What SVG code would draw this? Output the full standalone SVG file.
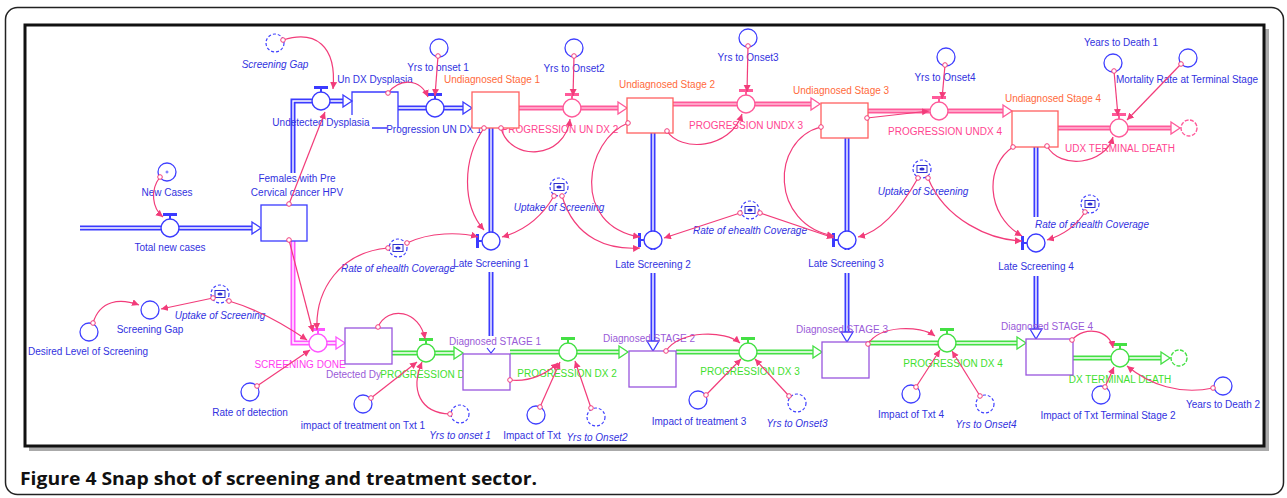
<svg xmlns="http://www.w3.org/2000/svg" width="1287" height="498" viewBox="0 0 1287 498">
<defs>
<style>
.t{font-family:"Liberation Sans",Arial,sans-serif;font-size:10px;text-anchor:middle}
.tb{fill:#3232e0}.ti{font-style:italic}.tr{fill:#ff6a3c}.tp{fill:#ff4590}.tm{fill:#ff3cf0}.tv{fill:#9a5ad8}.tg{fill:#3fe02f}
.cv{fill:#fff;stroke:#4040ff;stroke-width:1.3}
.gh{fill:#fff;stroke:#4040ff;stroke-width:1.2;stroke-dasharray:3 2}
.lk{fill:none;stroke:#f23c7a;stroke-width:1.2;marker-start:url(#lo);marker-end:url(#la)}
.pB{fill:none;stroke:#3b3bff;stroke-width:5}
.pP{fill:none;stroke:#ff5a9a;stroke-width:5}
.pM{fill:none;stroke:#ff55ff;stroke-width:5}
.pG{fill:none;stroke:#44e044;stroke-width:5}
.pw{fill:none;stroke:#fff;stroke-width:1.4}
.aB{fill:#fff;stroke:#3b3bff;stroke-width:1.3}
.aP{fill:#fff;stroke:#ff5a9a;stroke-width:1.3}
.aM{fill:#fff;stroke:#ff55ff;stroke-width:1.3}
.aG{fill:#fff;stroke:#44e044;stroke-width:1.3}
.vB{fill:#fff;stroke:#3b3bff;stroke-width:1.4}
.vP{fill:#fff;stroke:#ff5a9a;stroke-width:1.4}
.vM{fill:#fff;stroke:#ff55ff;stroke-width:1.4}
.vG{fill:#fff;stroke:#44e044;stroke-width:1.4}
.hB{fill:#3b3bff}.hP{fill:#ff5a9a}.hM{fill:#ff55ff}.hG{fill:#44e044}
.sB{fill:#fff;stroke:#3b3bff;stroke-width:1.3}
.sR{fill:#fff;stroke:#ff6060;stroke-width:1.3}
.sV{fill:#fff;stroke:#9955dd;stroke-width:1.3}
.ic{fill:#fff;stroke:#3030d0;stroke-width:1}
.cl{fill:#fff;stroke-width:1.4;stroke-dasharray:4 1.5}
</style>
<marker id="la" markerUnits="userSpaceOnUse" markerWidth="8" markerHeight="8" refX="7" refY="3.5" orient="auto"><path d="M0,0 L7,3.5 L0,7 z" fill="#f23c7a"/></marker>
<marker id="lo" markerUnits="userSpaceOnUse" markerWidth="7" markerHeight="7" refX="3.5" refY="3.5"><circle cx="3.5" cy="3.5" r="2.3" fill="#fff" stroke="#f23c7a" stroke-width="1"/></marker>
</defs>

<g id="frame">
<rect x="5.5" y="7.5" width="1278" height="487" rx="12" fill="#fff" stroke="#222" stroke-width="1.5"/>
<rect x="29" y="29" width="1240" height="422" fill="#aaa"/>
<rect x="25" y="25" width="1239" height="421" fill="#fff" stroke="#111" stroke-width="3"/>
<text x="20" y="485" font-family="'Open Sans','Liberation Sans',sans-serif" font-weight="bold" font-size="18" textLength="517" lengthAdjust="spacingAndGlyphs" fill="#111">Figure 4 Snap shot of screening and treatment sector.</text>
</g>

<!-- flows -->
<g id="flow-total-new-cases">
<path class="pB" d="M80,228 H252"/><path class="pw" d="M80,228 H252"/>
<polygon class="aB" points="252,222 261,228 252,234"/>
<path class="hB" d="M163,213h14v3h-14z M169,216h2v3h-2z"/>
<circle class="vB" cx="170" cy="228" r="9"/>
<text class="t tb" x="170" y="251">Total new cases</text>
</g>
<g id="flow-undetected-dysplasia">
<path class="pB" d="M293,173 V101 H343"/><path class="pw" d="M293,173 V101 H343"/>
<polygon class="aB" points="343,95 352,101 343,107"/>
<path class="hB" d="M314,86h14v3h-14z M320,89h2v3h-2z"/>
<circle class="vB" cx="321" cy="101" r="9"/>
<text class="t tb" x="321" y="125.5">Undetected Dysplasia</text>
</g>
<g id="flow-progression-un-dx-1">
<path class="pB" d="M398,108 H463"/><path class="pw" d="M398,108 H463"/>
<polygon class="aB" points="463,102 472,108 463,114"/>
<path class="hB" d="M428,93h14v3h-14z M434,96h2v3h-2z"/>
<circle class="vB" cx="435" cy="108" r="9"/>
<text class="t tb" x="434" y="132.5">Progression UN DX 1</text>
</g>
<g id="flow-progression-un-dx-2">
<path class="pP" d="M519,108 H618"/><path class="pw" d="M519,108 H618" stroke-opacity="0.6"/>
<polygon class="aP" points="618,102 627,108 618,114"/>
<path class="hP" d="M565,93h14v3h-14z M571,96h2v3h-2z"/>
<circle class="vP" cx="572" cy="108" r="9"/>
<text class="t tp" x="560" y="132.5">PROGRESSION  UN DX 2</text>
</g>
<g id="flow-progression-undx-3">
<path class="pP" d="M673,104 H811"/><path class="pw" d="M673,104 H811" stroke-opacity="0.6"/>
<polygon class="aP" points="811,98 820,104 811,110"/>
<path class="hP" d="M739,89h14v3h-14z M745,92h2v3h-2z"/>
<circle class="vP" cx="746" cy="104" r="9"/>
<text class="t tp" x="746" y="128.5">PROGRESSION  UNDX 3</text>
</g>
<g id="flow-progression-undx-4">
<path class="pP" d="M868,111 H1003"/><path class="pw" d="M868,111 H1003" stroke-opacity="0.6"/>
<polygon class="aP" points="1003,105 1012,111 1003,117"/>
<path class="hP" d="M932,96h14v3h-14z M938,99h2v3h-2z"/>
<circle class="vP" cx="939" cy="111" r="9"/>
<text class="t tp" x="945" y="134.5">PROGRESSION  UNDX 4</text>
</g>
<g id="flow-udx-terminal-death">
<path class="pP" d="M1058,128 H1171"/><path class="pw" d="M1058,128 H1171" stroke-opacity="0.6"/>
<polygon class="aP" points="1171,122 1180,128 1171,134"/>
<circle class="cl" cx="1189" cy="128" r="8" stroke="#ff5a9a"/>
<path class="hP" d="M1112,113h14v3h-14z M1118,116h2v3h-2z"/>
<circle class="vP" cx="1119" cy="128" r="9"/>
<text class="t tp" x="1120" y="151.5">UDX TERMINAL DEATH</text>
</g>
<g id="flow-late-screening-1">
<path class="pB" d="M491,128 V250 M491,272 V336"/><path class="pw" d="M491,128 V250 M491,272 V336"/>
<path d="M487,348 L491,353 L495,348" fill="none" stroke="#3b3bff" stroke-width="1.2"/>
<path class="hB" d="M476,234h3v14h-3z M479,240h3v2h-3z"/>
<circle class="vB" cx="491" cy="241" r="9"/>
<text class="t tb" x="491" y="266.5">Late Screening 1</text>
</g>
<g id="flow-late-screening-2">
<path class="pB" d="M653,133 V250 M653,273 V341"/><path class="pw" d="M653,133 V250 M653,273 V341"/>
<polygon class="aB" points="647,341 653,351 659,341"/>
<path class="hB" d="M638,233h3v14h-3z M641,239h3v2h-3z"/>
<circle class="vB" cx="653" cy="240" r="9"/>
<text class="t tb" x="653" y="267.5">Late Screening 2</text>
</g>
<g id="flow-late-screening-3">
<path class="pB" d="M847,138 V250 M847,273 V332"/><path class="pw" d="M847,138 V250 M847,273 V332"/>
<polygon class="aB" points="841,332 847,342 853,332"/>
<path class="hB" d="M832,233h3v14h-3z M835,239h3v2h-3z"/>
<circle class="vB" cx="847" cy="240" r="9"/>
<text class="t tb" x="846" y="266.5">Late Screening 3</text>
</g>
<g id="flow-late-screening-4">
<path class="pB" d="M1036,147 V217 M1036,276 V329"/><path class="pw" d="M1036,147 V217 M1036,276 V329"/>
<polygon class="aB" points="1030,329 1036,339 1042,329"/>
<path class="hB" d="M1021,236h3v14h-3z M1024,242h3v2h-3z"/>
<circle class="vB" cx="1036" cy="243" r="9"/>
<text class="t tb" x="1036" y="269.5">Late Screening 4</text>
</g>
<g id="flow-screening-done">
<path class="pM" d="M293,241 V343 H336"/><path class="pw" d="M293,241 V343 H336"/>
<polygon class="aM" points="336,337 345,343 336,349"/>
<path class="hM" d="M311,328h14v3h-14z M317,331h2v3h-2z"/>
<circle class="vM" cx="318" cy="343" r="9"/>
<text class="t tm" x="300" y="367.5">SCREENING DONE</text>
</g>
<g id="flow-progression-dx-1">
<path class="pG" d="M392,353 H454"/><path class="pw" d="M392,353 H454"/>
<polygon class="aG" points="454,347 463,353 454,359"/>
<path class="hG" d="M419,338h14v3h-14z M425,341h2v3h-2z"/>
<circle class="vG" cx="426" cy="353" r="9"/>
<text class="t tg" x="430" y="377.5">PROGRESSION DX 1</text>
</g>
<g id="flow-progression-dx-2">
<path class="pG" d="M510,352 H619"/><path class="pw" d="M510,352 H619"/>
<polygon class="aG" points="619,346 628,352 619,358"/>
<path class="hG" d="M561,337h14v3h-14z M567,340h2v3h-2z"/>
<circle class="vG" cx="568" cy="352" r="9"/>
<text class="t tg" x="567" y="376.5">PROGRESSION DX 2</text>
</g>
<g id="flow-progression-dx-3">
<path class="pG" d="M676,352 H813"/><path class="pw" d="M676,352 H813"/>
<polygon class="aG" points="813,346 822,352 813,358"/>
<path class="hG" d="M741,337h14v3h-14z M747,340h2v3h-2z"/>
<circle class="vG" cx="748" cy="352" r="9"/>
<text class="t tg" x="750" y="374.5">PROGRESSION DX 3</text>
</g>
<g id="flow-progression-dx-4">
<path class="pG" d="M869,343 H1017"/><path class="pw" d="M869,343 H1017"/>
<polygon class="aG" points="1017,337 1026,343 1017,349"/>
<path class="hG" d="M940,328h14v3h-14z M946,331h2v3h-2z"/>
<circle class="vG" cx="947" cy="343" r="9"/>
<text class="t tg" x="953" y="366.5">PROGRESSION DX 4</text>
</g>
<g id="flow-dx-terminal-death">
<path class="pG" d="M1073,358 H1161"/><path class="pw" d="M1073,358 H1161"/>
<polygon class="aG" points="1161,352 1170,358 1161,364"/>
<circle class="cl" cx="1179" cy="358" r="8" stroke="#44e044"/>
<path class="hG" d="M1113,343h14v3h-14z M1119,346h2v3h-2z"/>
<circle class="vG" cx="1120" cy="358" r="9"/>
<text class="t tg" x="1120" y="382.5">DX TERMINAL DEATH</text>
</g>

<!-- stocks -->
<g id="stock-females"><rect class="sB" x="261" y="205" width="46" height="36"/>
<text class="t tb" x="297" y="181.5">Females with Pre</text><text class="t tb" x="297" y="196">Cervical cancer HPV</text></g>
<g id="stock-un-dx-dysplasia"><path d="M352,115 V92 H398 V128 M372,128 H387" fill="none" stroke="#3b3bff" stroke-width="1.3"/>
<text class="t tb" x="375" y="82.5">Un DX Dysplasia</text></g>
<g id="stock-undiagnosed-1"><rect class="sR" x="472" y="92" width="47" height="36"/><text class="t tr" x="492" y="82.5">Undiagnosed Stage 1</text></g>
<g id="stock-undiagnosed-2"><rect class="sR" x="627" y="98" width="46" height="35"/><text class="t tr" x="667" y="87.5">Undiagnosed Stage 2</text></g>
<g id="stock-undiagnosed-3"><rect class="sR" x="821" y="103" width="47" height="35"/><text class="t tr" x="841" y="93.5">Undiagnosed Stage 3</text></g>
<g id="stock-undiagnosed-4"><rect class="sR" x="1012" y="111" width="46" height="36"/><text class="t tr" x="1053" y="101.5">Undiagnosed Stage 4</text></g>
<g id="stock-detected"><rect class="sV" x="345" y="328" width="47" height="36"/><text class="t tv" x="381" y="378" text-anchor="end" style="text-anchor:end">Detected Dy</text></g>
<g id="stock-diagnosed-1"><rect class="sV" x="463" y="354" width="47" height="36"/><text class="t tv" x="495" y="344.5">Diagnosed STAGE 1</text></g>
<g id="stock-diagnosed-2"><rect class="sV" x="629" y="351" width="47" height="36"/><text class="t tv" x="649" y="341.5">Diagnosed STAGE 2</text></g>
<g id="stock-diagnosed-3"><rect class="sV" x="822" y="342" width="47" height="36"/><text class="t tv" x="842" y="332.5">Diagnosed STAGE 3</text></g>
<g id="stock-diagnosed-4"><rect class="sV" x="1026" y="339" width="47" height="36"/><text class="t tv" x="1047" y="329.5">Diagnosed STAGE 4</text></g>

<!-- converters -->
<g id="conv-new-cases"><circle class="cv" cx="167" cy="172" r="9"/><path d="M165.5,172h3M167,170.5v3" stroke="#4040ff" stroke-width="0.8"/><text class="t tb" x="167" y="196">New Cases</text></g>
<g id="ghost-screening-gap-top"><circle class="gh" cx="275" cy="43" r="9"/><text class="t tb ti" x="275" y="67.5">Screening Gap</text></g>
<g id="conv-yrs-onset-1"><circle class="cv" cx="439" cy="48" r="9"/><text class="t tb" x="438" y="70.5">Yrs to onset 1</text></g>
<g id="conv-yrs-onset2"><circle class="cv" cx="574" cy="48" r="9"/><text class="t tb" x="574" y="71.5">Yrs to Onset2</text></g>
<g id="conv-yrs-onset3"><circle class="cv" cx="748" cy="38" r="9"/><text class="t tb" x="748" y="60.5">Yrs to Onset3</text></g>
<g id="conv-yrs-onset4"><circle class="cv" cx="946" cy="57" r="9"/><text class="t tb" x="945" y="80.5">Yrs to Onset4</text></g>
<g id="conv-years-death-1"><circle class="cv" cx="1113" cy="63" r="9"/><text class="t tb" x="1121" y="45.5">Years to Death 1</text></g>
<g id="conv-mortality"><circle class="cv" cx="1188" cy="58" r="9"/><text class="t tb" x="1187" y="82.5">Mortality Rate at Terminal Stage</text></g>

<g id="ghost-uptake-1"><circle class="gh" cx="559" cy="187" r="9"/><rect class="ic" x="554" y="183.5" width="10" height="7"/><ellipse cx="559" cy="187" rx="2.6" ry="1.6" fill="#3030d0"/><text class="t tb ti" x="559" y="210.5">Uptake of Screening</text></g>
<g id="ghost-ehealth-2"><circle class="gh" cx="750" cy="210" r="9"/><rect class="ic" x="745" y="206.5" width="10" height="7"/><ellipse cx="750" cy="210" rx="2.6" ry="1.6" fill="#3030d0"/><text class="t tb ti" x="750" y="233.5">Rate of ehealth Coverage</text></g>
<g id="ghost-uptake-3"><circle class="gh" cx="922" cy="169" r="9"/><rect class="ic" x="917" y="165.5" width="10" height="7"/><ellipse cx="922" cy="169" rx="2.6" ry="1.6" fill="#3030d0"/><text class="t tb ti" x="923" y="194.5">Uptake of Screening</text></g>
<g id="ghost-ehealth-4"><circle class="gh" cx="1090" cy="204" r="9"/><rect class="ic" x="1085" y="200.5" width="10" height="7"/><ellipse cx="1090" cy="204" rx="2.6" ry="1.6" fill="#3030d0"/><text class="t tb ti" x="1092" y="227.5">Rate of ehealth Coverage</text></g>
<g id="ghost-ehealth-1"><circle class="gh" cx="398" cy="248" r="9"/><rect class="ic" x="393" y="244.5" width="10" height="7"/><ellipse cx="398" cy="248" rx="2.6" ry="1.6" fill="#3030d0"/><text class="t tb ti" x="398" y="271.5">Rate of ehealth Coverage</text></g>
<g id="ghost-uptake-0"><circle class="gh" cx="220" cy="294" r="9"/><rect class="ic" x="215" y="290.5" width="10" height="7"/><ellipse cx="220" cy="294" rx="2.6" ry="1.6" fill="#3030d0"/><text class="t tb ti" x="220" y="318.5">Uptake of Screening</text></g>

<g id="conv-screening-gap"><circle class="cv" cx="150" cy="310" r="9"/><text class="t tb" x="150" y="332.5">Screening Gap</text></g>
<g id="conv-desired-level"><circle class="cv" cx="89" cy="332" r="9"/><text class="t tb" x="88" y="354.5">Desired Level of  Screening</text></g>
<g id="conv-rate-detection"><circle class="cv" cx="250" cy="392" r="9"/><text class="t tb" x="250" y="415.5">Rate of detection</text></g>
<g id="conv-impact-txt-1"><circle class="cv" cx="363" cy="404" r="9"/><text class="t tb" x="363" y="428.5">impact of treatment on Txt 1</text></g>
<g id="ghost-yrs-onset-1"><circle class="gh" cx="460" cy="414" r="9"/><text class="t tb ti" x="460" y="438.5">Yrs to onset 1</text></g>
<g id="conv-impact-txt"><circle class="cv" cx="536" cy="415" r="9"/><text class="t tb" x="532" y="438.5">Impact of Txt</text></g>
<g id="ghost-yrs-onset2"><circle class="gh" cx="596" cy="417" r="9"/><text class="t tb ti" x="597" y="440.5">Yrs to Onset2</text></g>
<g id="conv-impact-treatment-3"><circle class="cv" cx="698" cy="400" r="9"/><text class="t tb" x="699" y="424.5">Impact of treatment 3</text></g>
<g id="ghost-yrs-onset3"><circle class="gh" cx="797" cy="403" r="9"/><text class="t tb ti" x="797" y="426.5">Yrs to Onset3</text></g>
<g id="conv-impact-txt-4"><circle class="cv" cx="911" cy="394" r="9"/><text class="t tb" x="911" y="417.5">Impact of Txt 4</text></g>
<g id="ghost-yrs-onset4"><circle class="gh" cx="985" cy="404" r="9"/><text class="t tb ti" x="986" y="427.5">Yrs to Onset4</text></g>
<g id="conv-impact-terminal"><circle class="cv" cx="1101" cy="395" r="9"/><text class="t tb" x="1108" y="418.5">Impact of Txt Terminal Stage 2</text></g>
<g id="conv-years-death-2"><circle class="cv" cx="1223" cy="386" r="9"/><text class="t tb" x="1223" y="407.5">Years to Death 2</text></g>

<g id="connectors">
<path class="lk" d="M283,40 C315,30 337,45 333,89"/>
<path class="lk" d="M289,204 L325,112"/>
<path class="lk" d="M388,93 C400,78 420,78 428,97"/>
<path class="lk" d="M438,56 L435,96"/>
<path class="lk" d="M160,177 C150,190 152,208 163,217"/>
<path class="lk" d="M574,56 L573,96"/>
<path class="lk" d="M501,128 C510,162 565,160 570,119"/>
<path class="lk" d="M748,46 L747,92"/>
<path class="lk" d="M667,131 C680,152 730,150 742,114"/>
<path class="lk" d="M945,65 L942,99"/>
<path class="lk" d="M867,118 L929,111"/>
<path class="lk" d="M1114,71 L1118,116"/>
<path class="lk" d="M1181,64 L1127,120"/>
<path class="lk" d="M1047,146 C1060,170 1105,165 1113,137"/>
<path class="lk" d="M484,128 C462,160 462,205 484,230"/>
<path class="lk" d="M554,196 C540,220 520,232 502,237"/>
<path class="lk" d="M562,196 C575,240 610,250 640,248"/>
<path class="lk" d="M628,123 C585,140 570,225 640,237"/>
<path class="lk" d="M740,213 L664,238"/>
<path class="lk" d="M760,213 L834,238"/>
<path class="lk" d="M821,127 C770,140 770,225 834,236"/>
<path class="lk" d="M918,178 C900,210 880,232 858,237"/>
<path class="lk" d="M928,178 C945,220 990,240 1022,241"/>
<path class="lk" d="M1013,147 C985,165 985,215 1022,236"/>
<path class="lk" d="M1085,212 C1075,228 1060,236 1047,240"/>
<path class="lk" d="M407,243 C430,232 460,232 478,237"/>
<path class="lk" d="M388,248 C340,252 315,290 317,330"/>
<path class="lk" d="M289,240 L313,332"/>
<path class="lk" d="M229,301 C260,310 285,325 307,340"/>
<path class="lk" d="M213,298 L161,309"/>
<path class="lk" d="M93,323 C100,300 120,298 139,305"/>
<path class="lk" d="M257,386 L310,350"/>
<path class="lk" d="M378,327 C388,305 420,310 425,339"/>
<path class="lk" d="M371,398 L417,362"/>
<path class="lk" d="M450,414 C420,413 410,390 422,362"/>
<path class="lk" d="M510,380 C530,382 545,375 558,363"/>
<path class="lk" d="M540,407 L560,362"/>
<path class="lk" d="M591,408 L575,361"/>
<path class="lk" d="M666,351 C680,330 725,330 740,343"/>
<path class="lk" d="M706,395 L741,359"/>
<path class="lk" d="M789,396 L755,359"/>
<path class="lk" d="M868,344 C880,325 920,325 935,336"/>
<path class="lk" d="M916,387 L940,350"/>
<path class="lk" d="M980,396 L952,351"/>
<path class="lk" d="M1072,340 C1085,325 1110,330 1113,348"/>
<path class="lk" d="M1105,387 L1114,367"/>
<path class="lk" d="M1213,388 C1180,395 1150,385 1127,366"/>
</g>
</svg>
